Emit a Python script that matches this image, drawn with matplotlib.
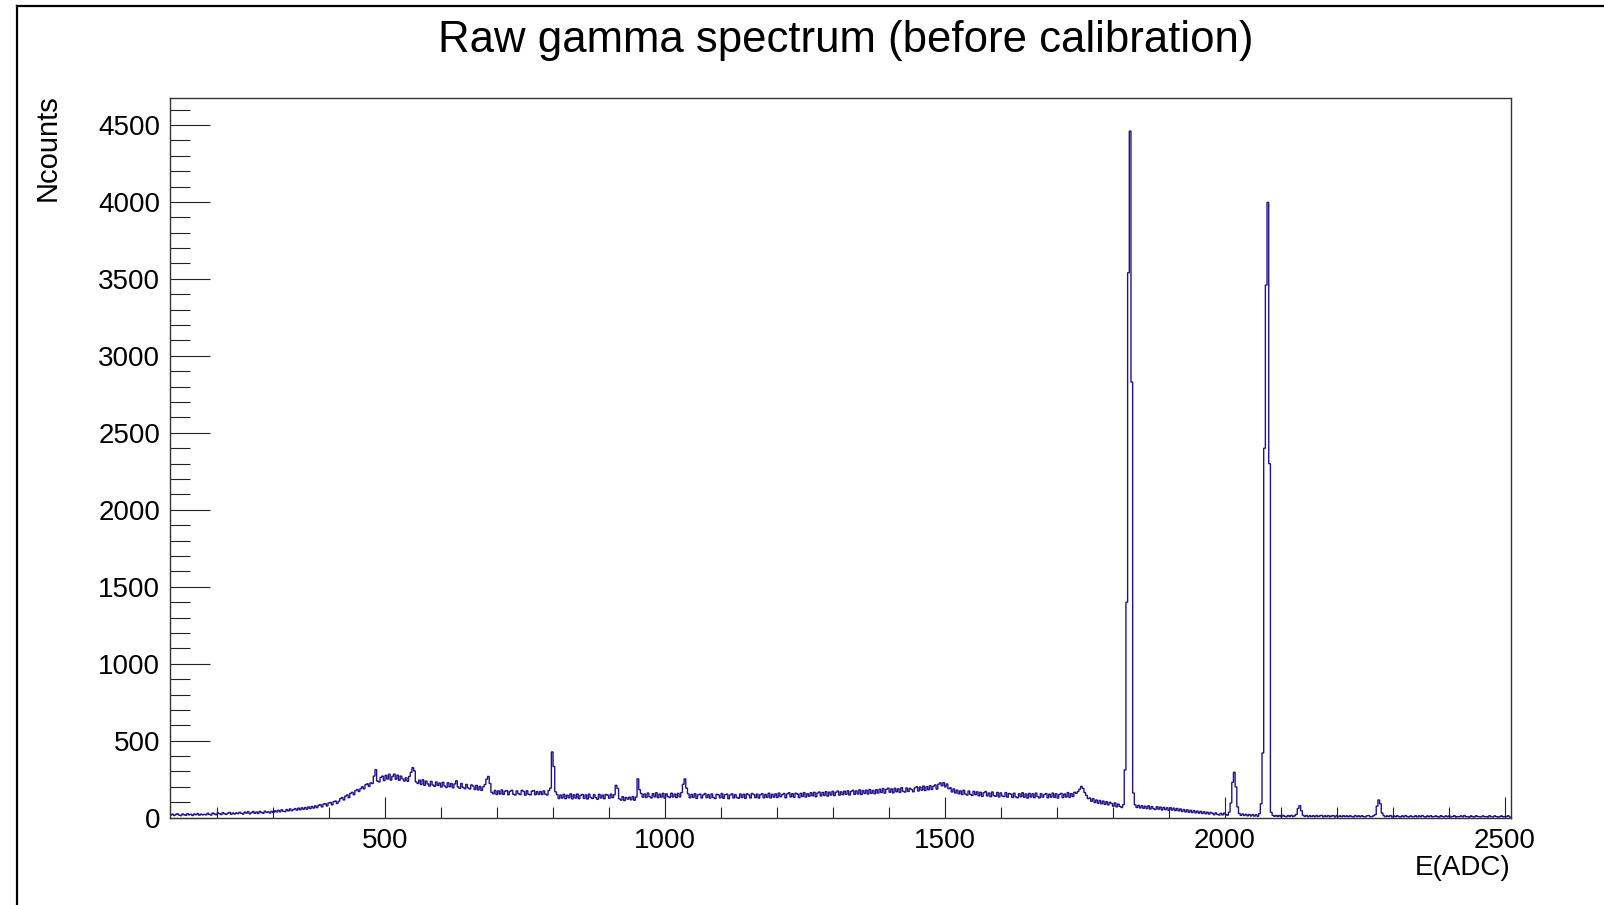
import numpy as np
import matplotlib.pyplot as plt
from matplotlib.ticker import MultipleLocator
from matplotlib.lines import Line2D

plt.rcParams['font.family'] = ['Liberation Sans', 'DejaVu Sans']

# histogram binning (ADC channels)
e_min = 116
e_max = 2510
bin_w = 3

# counts per bin, 20 bins (60 ADC) per row
counts = [
    16, 23, 14, 21, 25, 17, 13, 24, 19, 15, 26, 18, 22, 14, 24, 19, 27, 16, 23, 18,
    22, 18, 29, 21, 17, 30, 24, 19, 31, 26, 20, 33, 25, 21, 29, 34, 22, 30, 24, 31,
    26, 35, 28, 23, 36, 29, 39, 25, 32, 40, 28, 37, 27, 41, 33, 29, 42, 34, 38, 30,
    41, 33, 45, 37, 48, 38, 51, 42, 39, 53, 44, 57, 45, 52, 59, 49, 62, 51, 64, 54,
    66, 55, 70, 59, 73, 62, 77, 65, 80, 84, 70, 88, 91, 76, 95, 99, 83, 104, 108, 92,
    106, 124, 131, 115, 140, 148, 130, 158, 165, 149, 176, 183, 170, 188, 201, 187, 214, 220, 203, 226,
    222, 270, 312, 238, 232, 262, 270, 241, 275, 251, 282, 244, 268, 283, 250, 276, 243, 270, 252, 238,
    259, 236, 268, 295, 325, 304, 232, 222, 244, 215, 246, 210, 238, 219, 205, 236, 212, 203, 232, 209,
    225, 199, 230, 206, 196, 227, 201, 222, 194, 219, 240, 200, 190, 222, 197, 188, 216, 193, 186, 213,
    205, 183, 210, 180, 203, 177, 200, 215, 250, 268, 222, 165, 155, 177, 150, 174, 153, 180, 151, 172,
    176, 149, 171, 178, 152, 147, 174, 156, 150, 178, 170, 146, 175, 152, 148, 172, 176, 149, 169, 151,
    170, 150, 174, 153, 147, 176, 192, 427, 332, 168, 150, 124, 147, 127, 152, 123, 146, 129, 155, 122,
    149, 127, 154, 123, 146, 151, 125, 148, 121, 153, 131, 124, 150, 130, 119, 152, 128, 147, 123, 151,
    146, 126, 153, 130, 149, 210, 190, 122, 114, 136, 111, 131, 120, 133, 116, 137, 113, 134, 252, 182,
    157, 133, 154, 131, 160, 137, 128, 156, 135, 162, 130, 153, 133, 158, 127, 155, 137, 131, 159, 134,
    154, 130, 158, 135, 163, 217, 252, 192, 155, 129, 151, 131, 156, 125, 149, 153, 128, 148, 157, 130,
    150, 127, 154, 131, 124, 152, 148, 129, 157, 126, 149, 153, 123, 147, 155, 128, 150, 131, 126, 154,
    131, 152, 125, 155, 148, 128, 157, 150, 130, 153, 127, 149, 156, 129, 151, 132, 159, 128, 152, 133,
    155, 131, 160, 136, 149, 157, 129, 154, 162, 135, 156, 132, 159, 153, 130, 158, 137, 163, 134, 156,
    139, 162, 142, 165, 136, 160, 167, 141, 164, 144, 169, 140, 166, 147, 171, 143, 165, 173, 146, 168,
    149, 172, 152, 175, 147, 170, 178, 151, 174, 154, 181, 150, 176, 157, 179, 153, 183, 158, 177, 155,
    182, 160, 185, 163, 189, 159, 184, 192, 165, 187, 161, 191, 168, 188, 164, 195, 171, 166, 193, 170,
    190, 182, 168, 194, 201, 173, 199, 178, 205, 176, 202, 181, 208, 183, 204, 213, 185, 217, 226, 207,
    228, 200, 219, 188, 194, 167, 187, 160, 179, 155, 174, 150, 178, 154, 147, 173, 151, 144, 171, 149,
    168, 142, 165, 138, 162, 170, 141, 160, 136, 167, 143, 139, 164, 134, 161, 141, 137, 163, 133, 157,
    153, 131, 159, 135, 129, 156, 136, 162, 132, 154, 127, 158, 134, 155, 130, 160, 137, 128, 156, 133,
    150, 157, 129, 153, 133, 160, 131, 155, 127, 151, 158, 130, 154, 134, 163, 132, 156, 137, 165, 158,
    170, 185, 203, 190, 163, 145, 124, 128, 106, 123, 98, 115, 93, 112, 90, 108, 86, 104, 83, 100,
    92, 74, 96, 70, 88, 73, 66, 84, 310, 1400, 3540, 4460, 2830, 160, 83, 66, 80, 63, 78, 61,
    75, 59, 77, 56, 72, 58, 53, 71, 55, 69, 50, 67, 52, 64, 48, 65, 49, 62, 46, 60,
    44, 57, 40, 53, 37, 51, 35, 48, 33, 45, 31, 43, 29, 41, 27, 38, 25, 36, 23, 34,
    29, 19, 31, 21, 17, 28, 18, 30, 20, 16, 36, 95, 230, 295, 200, 70, 27, 15, 24, 14,
    22, 12, 21, 11, 20, 10, 19, 9, 26, 90, 420, 2400, 3460, 3997, 2300, 35, 15, 9, 14, 8,
    14, 7, 15, 9, 6, 14, 8, 15, 7, 13, 22, 60, 78, 45, 16, 8, 14, 6, 13, 7,
    13, 6, 14, 7, 12, 15, 5, 13, 7, 14, 6, 12, 13, 5, 14, 7, 12, 6, 13, 7,
    12, 6, 13, 7, 5, 14, 7, 12, 6, 13, 7, 5, 12, 14, 6, 7, 13, 20, 75, 115,
    90, 30, 13, 6, 12, 7, 14, 5, 12, 6, 13, 7, 5, 12, 6, 14, 7, 5, 12, 6,
    7, 13, 5, 12, 6, 14, 7, 4, 12, 6, 13, 5, 7, 12, 6, 4, 13, 7, 5, 12,
    6, 12, 5, 7, 13, 4, 7, 6, 12, 5, 14, 6, 7, 4, 12, 6, 5, 13, 7, 6,
    5, 12, 6, 7, 4, 13, 6, 5, 12, 7, 4, 6, 12, 5, 7, 6, 13, 5,
]
edges = np.arange(e_min, e_max + 1, bin_w)

fig = plt.figure(figsize=(16.04, 9.05), dpi=100)

# canvas frame (left and top edge visible in the crop)
fig.add_artist(Line2D([0.0103, 0.0103], [0.0, 0.9937], color='black', lw=1.6))
fig.add_artist(Line2D([0.0103, 1.0], [0.9937, 0.9937], color='black', lw=1.6))

ax = fig.add_axes([0.106, 0.0965, 0.8358, 0.7952])
ax.stairs(counts, edges, color='#27108c', lw=1.0)

ax.set_xlim(e_min, e_max)
ax.set_ylim(0, 4675)

ax.xaxis.set_major_locator(MultipleLocator(500))
ax.xaxis.set_minor_locator(MultipleLocator(100))
ax.yaxis.set_major_locator(MultipleLocator(500))
ax.yaxis.set_minor_locator(MultipleLocator(100))

ax.tick_params(axis='both', which='both', direction='in', color='#222222',
               width=0.8, labelsize=20)
ax.tick_params(axis='y', which='major', length=29, pad=7)
ax.tick_params(axis='y', which='minor', length=14.5)
ax.tick_params(axis='x', which='major', length=15, pad=7.5)
ax.tick_params(axis='x', which='minor', length=8)

for s in ax.spines.values():
    s.set_color('#333333')
    s.set_linewidth(1.0)

fig.text(0.5274, 0.955, 'Raw gamma spectrum (before calibration)',
         ha='center', va='center', fontsize=31.5)
fig.text(0.030, 0.896, 'Ncounts', rotation=90, ha='center', va='top',
         fontsize=21)
fig.text(0.9418, 0.041, 'E(ADC)', ha='right', va='center', fontsize=20)

fig.savefig('out.png', dpi=100)
